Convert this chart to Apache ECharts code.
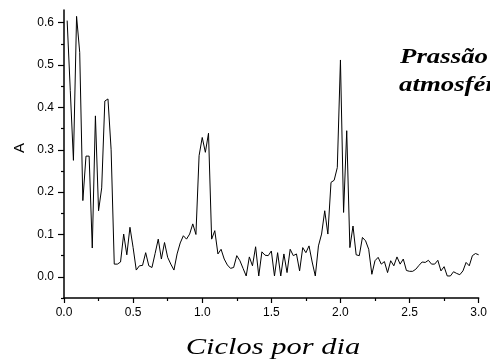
<!DOCTYPE html>
<html>
<head>
<meta charset="utf-8">
<script src="https://cdn.jsdelivr.net/npm/echarts@6/dist/echarts.min.js"></script>
<style>
  html, body { margin: 0; padding: 0; background: #ffffff; }
  #chart { width: 490px; height: 359px; }
</style>
</head>
<body>
<div id="chart"></div>
<script>
// Amplitude spectrum of atmospheric pressure, frequency in cycles per day.
// Spectral lines are spaced by 1/44 cycles per day (44-day record).
const FREQ_STEP = 1 / 44;

const amplitude = [
  0.605, 0.440, 0.275, 0.615, 0.530, 0.180, 0.285, 0.285, 0.068, 0.380,
  0.156, 0.210, 0.415, 0.420, 0.300, 0.030, 0.030, 0.035, 0.101, 0.052,
  0.117, 0.069, 0.016, 0.026, 0.027, 0.057, 0.026, 0.022, 0.055, 0.089,
  0.042, 0.081, 0.046, 0.030, 0.016, 0.054, 0.080, 0.097, 0.089, 0.101,
  0.125, 0.100, 0.286, 0.329, 0.294, 0.339, 0.089, 0.109, 0.054, 0.065,
  0.042, 0.028, 0.020, 0.022, 0.050, 0.038, 0.020, 0.002, 0.047, 0.026,
  0.071, 0.002, 0.059, 0.051, 0.050, 0.061, 0.002, 0.057, 0.002, 0.054,
  0.010, 0.065, 0.050, 0.054, 0.014, 0.069, 0.057, 0.073, 0.035, 0.002,
  0.073, 0.101, 0.156, 0.101, 0.223, 0.228, 0.258, 0.512, 0.152, 0.345,
  0.069, 0.120, 0.052, 0.050, 0.093, 0.085, 0.065, 0.006, 0.038, 0.046,
  0.030, 0.036, 0.010, 0.038, 0.026, 0.047, 0.030, 0.042, 0.015, 0.013,
  0.013, 0.018, 0.027, 0.035, 0.034, 0.039, 0.030, 0.030, 0.039, 0.014,
  0.024, 0.002, 0.002, 0.012, 0.008, 0.005, 0.014, 0.034, 0.026, 0.050,
  0.055, 0.052
];

const xTickLabels = ['0.0', '0.5', '1.0', '1.5', '2.0', '2.5', '3.0'];
const yTickValues = [0.0, 0.1, 0.2, 0.3, 0.4, 0.5, 0.6];
const yTickLabels = ['0.0', '0.1', '0.2', '0.3', '0.4', '0.5', '0.6'];
const yMinorTickValues = [-0.05, 0.05, 0.15, 0.25, 0.35, 0.45, 0.55];

const titleLines = ['Prassão', 'atmosférica'];
const xAxisTitle = 'Ciclos por dia';
const yAxisTitle = 'A';

const seriesData = amplitude.map((a, i) => [(i + 1) * FREQ_STEP, a]);

const chart = echarts.init(document.getElementById('chart'), null, { renderer: 'canvas' });

const axisLineStyle = { color: '#000000', width: 1.5 };
const tickStyle = { color: '#000000', width: 1.2 };

chart.setOption({
  animation: false,
  backgroundColor: '#ffffff',
  grid: { left: 64, right: 8, top: 10, bottom: 61, containLabel: false },
  xAxis: {
    type: 'value',
    min: 0,
    max: 3,
    interval: 0.5,
    axisLine: { show: true, onZero: false, lineStyle: axisLineStyle },
    axisTick: { show: true, inside: false, length: 5, lineStyle: tickStyle },
    minorTick: { show: true, splitNumber: 2, length: 3, lineStyle: tickStyle },
    splitLine: { show: false },
    axisLabel: {
      margin: 9,
      color: '#000',
      fontFamily: 'Liberation Sans',
      fontSize: 12,
      formatter: v => xTickLabels[Math.round(v / 0.5)]
    }
  },
  yAxis: [
    {
      type: 'value',
      min: -0.05,
      max: 0.63,
      position: 'left',
      axisLine: { show: true, onZero: false, lineStyle: axisLineStyle },
      axisTick: { show: true, inside: false, length: 6, customValues: yTickValues, lineStyle: tickStyle },
      splitLine: { show: false },
      axisLabel: {
        margin: 10,
        color: '#000',
        fontFamily: 'Liberation Sans',
        fontSize: 12,
        customValues: yTickValues,
        formatter: v => yTickLabels[Math.round(v * 10)]
      }
    },
    {
      // short minor ticks halfway between the labelled ones
      type: 'value',
      min: -0.05,
      max: 0.63,
      position: 'left',
      axisLine: { show: false },
      axisTick: { show: true, inside: false, length: 3, customValues: yMinorTickValues, lineStyle: tickStyle },
      axisLabel: { show: false },
      splitLine: { show: false }
    }
  ],
  graphic: [
    {
      type: 'text', x: 19.5, y: 148, rotation: Math.PI / 2,
      style: { text: yAxisTitle, x: 0, y: 0, align: 'center', verticalAlign: 'middle',
               font: '15px "Liberation Sans"', fill: '#000' }
    },
    {
      type: 'text', x: 400, y: 46, scaleX: 1.22,
      style: { text: titleLines[0], x: 0, y: 0, align: 'left', verticalAlign: 'top',
               font: 'bold italic 22px "Liberation Serif"', fill: '#000' }
    },
    {
      type: 'text', x: 399, y: 74, scaleX: 1.22,
      style: { text: titleLines[1], x: 0, y: 0, align: 'left', verticalAlign: 'top',
               font: 'bold italic 22px "Liberation Serif"', fill: '#000' }
    },
    {
      type: 'text', x: 273, y: 336, scaleX: 1.27,
      style: { text: xAxisTitle, x: 0, y: 0, align: 'center', verticalAlign: 'top',
               font: 'italic 24px "Liberation Serif"', fill: '#000' }
    }
  ],
  series: [
    {
      type: 'line',
      xAxisIndex: 0,
      yAxisIndex: 0,
      data: seriesData,
      showSymbol: false,
      symbol: 'none',
      lineStyle: { color: '#000000', width: 1 },
      silent: true
    }
  ]
});
</script>
</body>
</html>
